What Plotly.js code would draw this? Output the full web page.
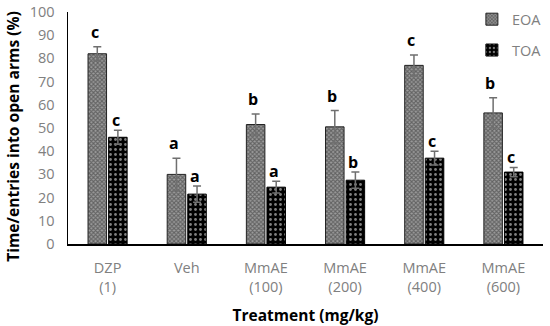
<!DOCTYPE html>
<html><head><meta charset="utf-8">
<script src="https://cdn.plot.ly/plotly-3.0.1.min.js"></script>
<style>html,body{margin:0;padding:0;background:#fff}#c{width:550px;height:326px}</style>
</head><body><div id="c"></div>
<script>
const categories = ["DZP<br>(1)", "Veh", "MmAE<br>(100)", "MmAE<br>(200)", "MmAE<br>(400)", "MmAE<br>(600)"];
const eoaValues = [82, 30, 51.5, 50.5, 77, 56.5];
const eoaErrors = [3, 7, 4.5, 7, 4.5, 6.5];
const toaValues = [46, 21.5, 24.5, 27.5, 37, 31];
const toaErrors = [3, 3.5, 2.5, 3.5, 3, 2];
const eoaLetters = ["c", "a", "b", "b", "c", "b"];
const toaLetters = ["c", "a", "a", "b", "c", "c"];
const yTitle = "Time/entries into open arms (%)";
const xTitle = "Treatment (mg/kg)";

const traces = [
  {type: "bar", name: "EOA", legendgroup: "g1", x: categories, y: eoaValues,
   error_y: {type: "data", array: eoaErrors, visible: true, color: "#6f6f6f", thickness: 1.5, width: 4},
   marker: {color: "#ffffff", line: {color: "#222", width: 1},
     pattern: {shape: "x", fgcolor: "#2a2a2a", bgcolor: "#9c9c9c", size: 3, solidity: 0.6, fillmode: "overlay"}}},
  {type: "bar", name: "TOA", legendgroup: "g2", x: categories, y: toaValues,
   error_y: {type: "data", array: toaErrors, visible: true, color: "#6f6f6f", thickness: 1.5, width: 4},
   marker: {color: "#000", line: {color: "#000", width: 1},
     pattern: {shape: ".", fgcolor: "#ffffff", bgcolor: "#000", size: 5, solidity: 0.25, fillmode: "overlay"}}}
];

const annotations = [];
categories.forEach((c, i) => {
  annotations.push({x: i, y: eoaValues[i] + eoaErrors[i], text: "<b>" + eoaLetters[i] + "</b>", showarrow: false,
    xref: "x", yref: "y", xshift: -13, yanchor: "bottom", yshift: 2, font: {size: 16, color: "#000", family: "Open Sans, sans-serif"}});
  annotations.push({x: i, y: toaValues[i] + toaErrors[i], text: "<b>" + toaLetters[i] + "</b>", showarrow: false,
    xref: "x", yref: "y", xshift: 8, yanchor: "bottom", yshift: -3, font: {size: 16, color: "#000", family: "Open Sans, sans-serif"}});
});
annotations.push({xref: "paper", yref: "paper", x: -0.116, y: 0.466, xanchor: "center", yanchor: "middle",
  textangle: -90, showarrow: false, text: "<b>" + yTitle + "</b>", font: {size: 15.6, color: "#000", family: "Open Sans, sans-serif"}});

const layout = {
  width: 550, height: 326,
  margin: {l: 68, r: 7, t: 12, b: 82, autoexpand: false},
  paper_bgcolor: "#fff", plot_bgcolor: "#fff",
  barmode: "group", bargap: 0.48, bargroupgap: 0.1,
  font: {family: "Open Sans, sans-serif", color: "#808080"},
  xaxis: {type: "category", showline: true, linecolor: "#000", linewidth: 1.5, ticks: "", showgrid: false, automargin: false,
    tickfont: {size: 14.5, color: "#808080"}, ticklabelstandoff: 10,
    title: {text: "<b>" + xTitle + "</b>", font: {size: 15.5, color: "#000"}, standoff: 17}},
  yaxis: {range: [0, 100], dtick: 10, showline: true, linecolor: "#000", linewidth: 1.5, ticks: "", showgrid: false, zeroline: false, automargin: false,
    tickfont: {size: 14.5, color: "#808080"}, ticklabelstandoff: 9},
  legend: {xref: "container", yref: "container", x: 0.858, xanchor: "left", y: 0.99, yanchor: "top",
    font: {size: 14.5, color: "#808080"}, tracegroupgap: 9, bgcolor: "rgba(0,0,0,0)", itemwidth: 30},
  showlegend: true,
  annotations: annotations
};

Plotly.newPlot("c", traces, layout, {displayModeBar: false, staticPlot: true});
</script></body></html>
